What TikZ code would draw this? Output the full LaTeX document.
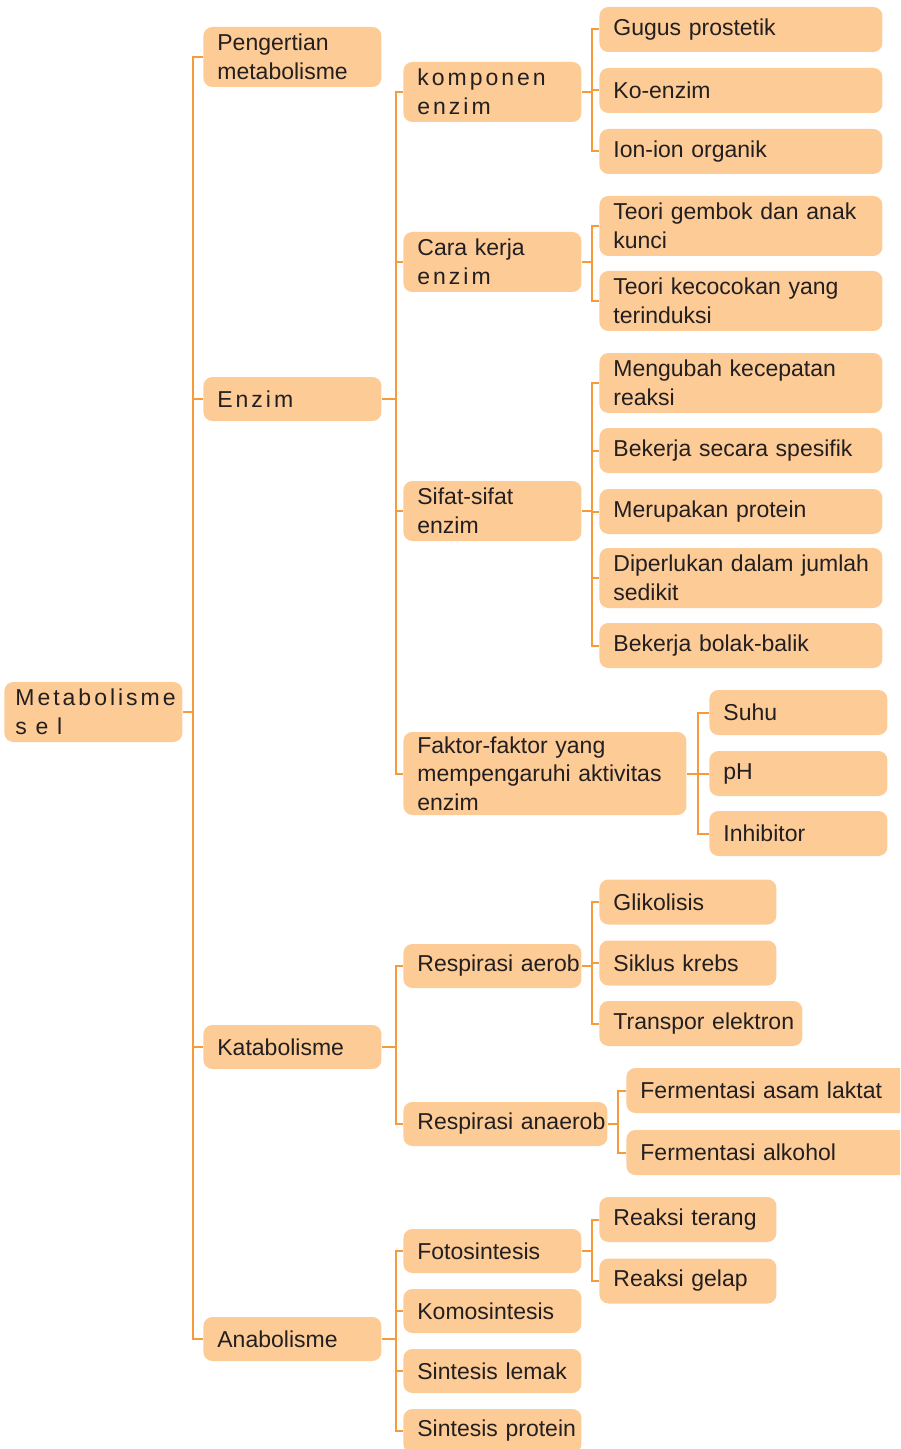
\documentclass[tikz,border=0pt]{standalone}
\usepackage{fontspec}
\setmainfont{Liberation Sans}
\newfontfamily\spaced{Liberation Sans}[LetterSpace=13]
\newfontfamily\widespaced{Liberation Sans}[LetterSpace=38]
\usepackage{tikz}
\definecolor{boxfill}{HTML}{FDCB95}
\definecolor{linecol}{HTML}{F59B3C}
\definecolor{ink}{HTML}{231F20}
\tikzset{
  box/.style = {fill=boxfill, rounded corners=4.5pt, anchor=west, inner xsep=0pt, inner ysep=0pt,
    minimum height=22.5pt, align=left, text=ink, font=\fontsize{11.5}{14.3}\selectfont,
    execute at begin node={\leftskip=7pt\relax}},
  lvl/.style = {box, text width=89pt},
  wide/.style = {box, text width=141.5pt},
  tall/.style = {minimum height=30pt},
  link/.style = {draw=linecol, line width=1pt}
}

\begin{document}
\begin{tikzpicture}[x=0.5pt, y=-0.5pt]
  \useasboundingbox (0,0) rectangle (900,1449);
  \clip (0,0) rectangle (900,1449);

  % root and first level
  \node[lvl, tall, execute at begin node={\leftskip=5.5pt\relax}] (meta) at (4,712)
    {{\spaced Metabolisme}\\{\widespaced sel}};
  \node[lvl, tall] (pengertian) at (203,57) {Pengertian\\metabolisme};
  \node[lvl, minimum height=22pt] (enzim) at (203,399) {\spaced Enzim};
  \node[lvl, minimum height=22pt] (katabolisme) at (203,1047) {Katabolisme};
  \node[lvl, minimum height=22pt] (anabolisme) at (203,1339) {Anabolisme};

  % enzim
  \node[lvl, tall] (komponen) at (403,92) {{\spaced komponen}\\{\spaced enzim}};
  \node[lvl, tall] (carakerja) at (403,262) {Cara kerja\\{\spaced enzim}};
  \node[lvl, tall] (sifat) at (403,511) {Sifat-sifat\\enzim};
  \node[wide, minimum height=41.5pt] (faktor) at (403,773.5) {Faktor-faktor yang\\mempengaruhi aktivitas\\enzim};

  \node[wide] (gugus) at (599,29.5) {Gugus prostetik};
  \node[wide] (koenzim) at (599,90.5) {Ko-enzim};
  \node[wide] (ion) at (599,151.5) {Ion-ion organik};

  \node[wide, tall] (gembok) at (599,226) {Teori gembok dan anak\\kunci};
  \node[wide, tall] (kecocokan) at (599,301) {Teori kecocokan yang\\terinduksi};

  \node[wide, tall] (kecepatan) at (599,383) {Mengubah kecepatan\\reaksi};
  \node[wide] (spesifik) at (599,450.5) {Bekerja secara spesifik};
  \node[wide] (protein) at (599,511.5) {Merupakan protein};
  \node[wide, tall] (sedikit) at (599,578) {Diperlukan dalam jumlah\\sedikit};
  \node[wide] (bolakbalik) at (599,645.5) {Bekerja bolak-balik};

  \node[lvl] (suhu) at (709,712.5) {Suhu};
  \node[lvl] (ph) at (709,773.5) {pH};
  \node[lvl] (inhibitor) at (709,833.5) {Inhibitor};

  % katabolisme
  \node[lvl, minimum height=22pt] (aerob) at (403,966) {Respirasi aerob};
  \node[box, text width=102pt, minimum height=22pt] (anaerob) at (403,1124) {Respirasi anaerob};

  \node[box, text width=88.5pt] (glikolisis) at (599,902) {Glikolisis};
  \node[box, text width=88.5pt] (krebs) at (599,963) {Siklus krebs};
  \node[box, text width=101.5pt] (transpor) at (599,1023.5) {Transpor elektron};

  \node[box, text width=150pt] (laktat) at (626,1090.5) {Fermentasi asam laktat};
  \node[box, text width=150pt] (alkohol) at (626,1152.5) {Fermentasi alkohol};

  % anabolisme
  \node[lvl, minimum height=22pt] (foto) at (403,1251) {Fotosintesis};
  \node[lvl, minimum height=22pt] (komo) at (403,1311) {Komosintesis};
  \node[lvl, minimum height=22pt] (lemak) at (403,1371) {Sintesis lemak};
  \node[lvl, minimum height=22pt] (sintprotein) at (403,1431) {Sintesis protein};

  \node[box, text width=88.5pt] (terang) at (599,1219.5) {Reaksi terang};
  \node[box, text width=88.5pt] (gelap) at (599,1281) {Reaksi gelap};

  % connectors
  \coordinate (jmeta) at ([xshift=5pt]meta.east);
  \draw[link] (meta.east) -- (jmeta);
  \foreach \c in {pengertian, enzim, katabolisme, anabolisme}
    \draw[link] (\c.west) -| (jmeta);

  \coordinate (jenzim) at ([xshift=7pt]enzim.east);
  \draw[link] (enzim.east) -- (jenzim);
  \foreach \c in {komponen, carakerja, sifat, faktor}
    \draw[link] (\c.west) -| (jenzim);

  \coordinate (jkomponen) at ([xshift=5pt]komponen.east);
  \draw[link] (komponen.east) -- (jkomponen);
  \foreach \c in {gugus, koenzim, ion}
    \draw[link] (\c.west) -| (jkomponen);

  \coordinate (jcara) at ([xshift=5pt]carakerja.east);
  \draw[link] (carakerja.east) -- (jcara);
  \foreach \c in {gembok, kecocokan}
    \draw[link] (\c.west) -| (jcara);

  \coordinate (jsifat) at ([xshift=5pt]sifat.east);
  \draw[link] (sifat.east) -- (jsifat);
  \foreach \c in {kecepatan, spesifik, protein, sedikit, bolakbalik}
    \draw[link] (\c.west) -| (jsifat);

  \coordinate (jfaktor) at ([xshift=5.5pt]faktor.east);
  \draw[link] (faktor.east) -- (jfaktor);
  \foreach \c in {suhu, ph, inhibitor}
    \draw[link] (\c.west) -| (jfaktor);

  \coordinate (jkatabolisme) at ([xshift=7pt]katabolisme.east);
  \draw[link] (katabolisme.east) -- (jkatabolisme);
  \foreach \c in {aerob, anaerob}
    \draw[link] (\c.west) -| (jkatabolisme);

  \coordinate (jaerob) at ([xshift=5pt]aerob.east);
  \draw[link] (aerob.east) -- (jaerob);
  \foreach \c in {glikolisis, krebs, transpor}
    \draw[link] (\c.west) -| (jaerob);

  \coordinate (janaerob) at ([xshift=5pt]anaerob.east);
  \draw[link] (anaerob.east) -- (janaerob);
  \foreach \c in {laktat, alkohol}
    \draw[link] (\c.west) -| (janaerob);

  \coordinate (janabolisme) at ([xshift=7pt]anabolisme.east);
  \draw[link] (anabolisme.east) -- (janabolisme);
  \foreach \c in {foto, komo, lemak, sintprotein}
    \draw[link] (\c.west) -| (janabolisme);

  \coordinate (jfoto) at ([xshift=5pt]foto.east);
  \draw[link] (foto.east) -- (jfoto);
  \foreach \c in {terang, gelap}
    \draw[link] (\c.west) -| (jfoto);
\end{tikzpicture}
\end{document}
